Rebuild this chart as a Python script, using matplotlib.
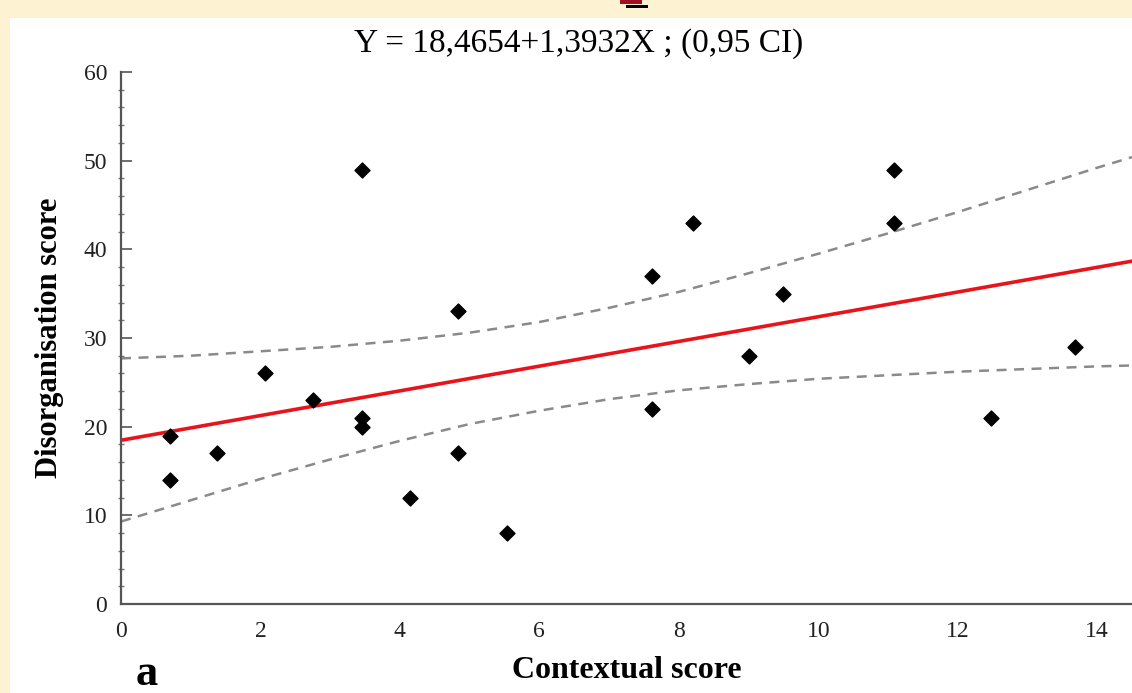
import numpy as np
import matplotlib
matplotlib.use("Agg")
import matplotlib.pyplot as plt
from matplotlib.ticker import MultipleLocator
from matplotlib.patches import Rectangle

# scatter data
contextual = [0.7, 0.7, 1.37, 2.06, 2.76, 3.45, 3.45, 3.45, 4.14, 4.84, 4.84,
              5.54, 7.62, 7.62, 8.2, 9.01, 9.5, 11.08, 11.08, 12.48, 13.68]
disorg = [19, 14, 17, 26, 23, 49, 21, 20, 12, 33, 17,
          8, 37, 22, 43, 28, 35, 49, 43, 21, 29]

# regression from the title
intercept = 18.4654
slope = 1.3932

# 0.95 CI bands
band_x = [0, 1, 2, 3, 4, 5, 6, 7, 8, 9, 10, 11, 12, 13, 14, 14.5]
band_upper = [27.7, 28.0, 28.5, 29.0, 29.7, 30.6, 31.8, 33.4, 35.2, 37.3,
              39.5, 41.8, 44.2, 46.7, 49.2, 50.4]
band_lower = [9.3, 11.7, 14.1, 16.3, 18.4, 20.3, 21.8, 23.1, 24.1, 24.8,
              25.4, 25.8, 26.2, 26.5, 26.8, 26.9]

title = "Y = 18,4654+1,3932X ; (0,95 CI)"
xlabel = "Contextual score"
ylabel = "Disorganisation score"

plt.rcParams['font.family'] = ['Liberation Serif', 'DejaVu Serif']

W, H = 1132, 693
fig = plt.figure(figsize=(W / 100, H / 100), dpi=100)
fig.patch.set_facecolor('#fdf3d3')
# white panel behind everything
fig.patches.append(Rectangle((10 / W, 0), 1, 1 - 18 / H,
                             transform=fig.transFigure, facecolor='white',
                             edgecolor='none', zorder=-10))
# small red/black fragment at the top edge
fig.patches.append(Rectangle((620 / W, 1 - 4 / H), 22 / W, 4 / H,
                             transform=fig.transFigure, facecolor='#a01020',
                             edgecolor='none'))
fig.patches.append(Rectangle((626 / W, 1 - 8 / H), 22 / W, 3 / H,
                             transform=fig.transFigure, facecolor='black',
                             edgecolor='none'))

ax = fig.add_axes([121 / W, 1 - 604 / H, (W - 121) / W, (604 - 72) / H])
ax.set_facecolor('none')

xs = np.array([0, 14.5])
ax.plot(xs, intercept + slope * xs, color='#e8141c', lw=2.6, zorder=3)
ax.plot(band_x, band_upper, color='#8a8a8a', lw=1.8, ls=(0, (4, 3)), zorder=2)
ax.plot(band_x, band_lower, color='#8a8a8a', lw=1.8, ls=(0, (4, 3)), zorder=2)
ax.scatter(contextual, disorg, marker='D', s=58, color='black', zorder=4)

ax.set_xlim(0, 14.5)
ax.set_ylim(0, 60)
ax.xaxis.set_major_locator(MultipleLocator(2))
ax.yaxis.set_major_locator(MultipleLocator(10))
ax.yaxis.set_minor_locator(MultipleLocator(2))

for s in ['top', 'right']:
    ax.spines[s].set_visible(False)
for s in ['left', 'bottom']:
    ax.spines[s].set_color('#555555')
    ax.spines[s].set_linewidth(1.6)

ax.tick_params(axis='x', length=0, pad=12, labelsize=17, colors='#222222')
ax.tick_params(axis='y', which='major', direction='in', length=8, width=1.2,
               color='#555555', labelsize=17, labelcolor='#222222', pad=10)
ax.tick_params(axis='y', which='minor', direction='inout', length=4, width=1.0,
               color='#777777')

ax.set_xlabel(xlabel, fontsize=23, fontweight='bold', labelpad=10)
ax.set_ylabel(ylabel, fontsize=22, fontweight='bold', labelpad=14)
fig.text(579 / W, 1 - 44 / H, title, fontsize=24, ha='center', va='center')

fig.text(147 / W, 1 - 674 / H, "a", fontsize=32, fontweight='bold',
         ha='center', va='center')

fig.savefig("out.png", dpi=100, facecolor=fig.get_facecolor())
